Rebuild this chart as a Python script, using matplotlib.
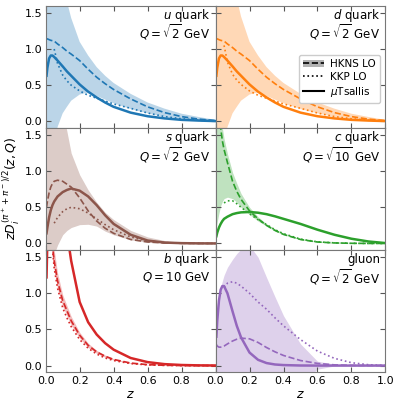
import matplotlib
matplotlib.use("Agg")

import numpy as np
import matplotlib.pyplot as plt
from matplotlib.patches import Patch
from matplotlib.lines import Line2D

nan = np.nan

# shared z grid
z = [0.005, 0.01, 0.02, 0.03, 0.04, 0.05, 0.07, 0.1, 0.125, 0.15, 0.2,
     0.25, 0.3, 0.35, 0.4, 0.5, 0.6, 0.7, 0.8, 0.9, 1.0]

# u quark
u_tsallis = [0.63, 0.74, 0.87, 0.91, 0.91, 0.89, 0.84, 0.76, 0.69, 0.63, 0.51,
             0.41, 0.33, 0.26, 0.20, 0.12, 0.07, 0.04, 0.02, 0.01, 0.003]
u_hkns = [1.14, 1.14, 1.13, 1.12, 1.115, 1.11, 1.07, 1.02, 0.97, 0.93, 0.84,
          0.72, 0.61, 0.52, 0.44, 0.31, 0.20, 0.12, 0.065, 0.03, 0.01]
u_kkp = [nan, nan, nan, nan, nan, 1.00, 0.80, 0.64, 0.56, 0.50, 0.42,
         0.36, 0.32, 0.28, 0.24, 0.18, 0.115, 0.065, 0.035, 0.015, 0.005]
u_hkns_hi = [4.0, 3.5, 3.0, 2.7, 2.45, 2.25, 2.0, 1.82, 1.66, 1.43, 1.10,
             0.91, 0.75, 0.63, 0.53, 0.38, 0.26, 0.175, 0.105, 0.06, 0.02]
u_hkns_lo = [-2.0, -1.7, -1.2, -0.85, -0.55, -0.35, -0.08, 0.11, 0.20, 0.285, 0.37,
             0.40, 0.35, 0.30, 0.25, 0.17, 0.11, 0.06, 0.03, 0.013, 0.004]

# d quark
d_tsallis = [0.63, 0.74, 0.87, 0.91, 0.91, 0.89, 0.84, 0.76, 0.69, 0.63, 0.51,
             0.41, 0.33, 0.26, 0.20, 0.12, 0.07, 0.04, 0.02, 0.01, 0.003]
d_hkns = [1.14, 1.14, 1.13, 1.12, 1.115, 1.11, 1.07, 1.02, 0.97, 0.93, 0.84,
          0.72, 0.61, 0.52, 0.44, 0.31, 0.20, 0.12, 0.065, 0.03, 0.01]
d_kkp = [nan, nan, nan, nan, nan, 1.05, 0.82, 0.65, 0.57, 0.51, 0.42,
         0.36, 0.32, 0.28, 0.24, 0.18, 0.115, 0.065, 0.035, 0.015, 0.005]
d_hkns_hi = [4.0, 3.5, 3.0, 2.7, 2.45, 2.25, 2.0, 1.85, 1.70, 1.45, 1.10,
             0.91, 0.75, 0.63, 0.53, 0.38, 0.26, 0.175, 0.105, 0.06, 0.02]
d_hkns_lo = [-2.0, -1.7, -1.2, -0.85, -0.55, -0.35, -0.08, 0.11, 0.20, 0.285, 0.37,
             0.40, 0.35, 0.30, 0.25, 0.17, 0.11, 0.06, 0.03, 0.013, 0.004]

# s quark
s_tsallis = [0.14, 0.22, 0.36, 0.46, 0.53, 0.58, 0.65, 0.71, 0.74, 0.76, 0.73,
             0.65, 0.53, 0.39, 0.27, 0.12, 0.04, 0.012, 0.004, 0.001, 0.0]
s_hkns = [0.50, 0.58, 0.70, 0.78, 0.83, 0.86, 0.875, 0.86, 0.82, 0.78, 0.63,
          0.45, 0.31, 0.21, 0.14, 0.055, 0.02, 0.007, 0.002, 0.0, 0.0]
s_kkp = [nan, nan, nan, nan, nan, 0.28, 0.36, 0.44, 0.48, 0.50, 0.48,
         0.42, 0.34, 0.26, 0.19, 0.09, 0.033, 0.011, 0.003, 0.001, 0.0]
s_hkns_hi = [4.0, 3.6, 3.0, 2.6, 2.3, 2.15, 2.0, 1.85, 1.55, 1.25, 0.95,
             0.74, 0.57, 0.43, 0.33, 0.18, 0.09, 0.04, 0.015, 0.005, 0.001]
s_hkns_lo = [-1.0, -0.85, -0.6, -0.42, -0.28, -0.15, -0.02, 0.12, 0.18, 0.22, 0.26,
             0.265, 0.24, 0.17, 0.12, 0.05, 0.015, 0.005, 0.002, 0.0, 0.0]

# c quark
c_tsallis = [0.10, 0.15, 0.22, 0.27, 0.31, 0.34, 0.37, 0.405, 0.42, 0.43, 0.435,
             0.425, 0.405, 0.375, 0.34, 0.27, 0.19, 0.12, 0.065, 0.027, 0.005]
c_hkns = [3.0, 2.6, 1.95, 1.6, 1.42, 1.30, 1.12, 0.86, 0.72, 0.61, 0.45,
          0.34, 0.25, 0.18, 0.125, 0.055, 0.02, 0.007, 0.002, 0.0, 0.0]
c_kkp = [nan, nan, nan, nan, nan, 0.56, 0.59, 0.59, 0.55, 0.50, 0.41,
         0.33, 0.26, 0.19, 0.135, 0.06, 0.022, 0.008, 0.002, 0.0, 0.0]
c_hkns_hi = [4.0, 3.5, 2.5, 1.9, 1.6, 1.45, 1.24, 0.98, 0.83, 0.69, 0.50,
             0.37, 0.27, 0.20, 0.14, 0.065, 0.027, 0.01, 0.003, 0.001, 0.0]
c_hkns_lo = [0.22, 0.30, 0.42, 0.52, 0.58, 0.62, 0.64, 0.62, 0.57, 0.50, 0.40,
             0.31, 0.24, 0.17, 0.12, 0.05, 0.018, 0.006, 0.002, 0.0, 0.0]

# b quark
b_tsallis = [1.22, 1.75, 2.6, 3.0, 3.2, 3.2, 2.9, 2.3, 1.85, 1.45, 0.88,
             0.60, 0.43, 0.31, 0.22, 0.105, 0.048, 0.02, 0.008, 0.003, 0.001]
b_hkns = [5.0, 4.5, 3.2, 2.2, 1.65, 1.45, 1.17, 0.90, 0.76, 0.62, 0.42,
          0.28, 0.19, 0.13, 0.085, 0.035, 0.013, 0.004, 0.001, 0.0, 0.0]
b_kkp = [nan, nan, nan, 2.1, 1.62, 1.35, 1.07, 0.80, 0.66, 0.54, 0.36,
         0.24, 0.16, 0.105, 0.07, 0.028, 0.01, 0.003, 0.001, 0.0, 0.0]
b_hkns_hi = [5.5, 5.0, 3.6, 2.45, 1.85, 1.6, 1.28, 0.98, 0.83, 0.68, 0.46,
             0.31, 0.21, 0.145, 0.095, 0.04, 0.015, 0.005, 0.001, 0.0, 0.0]
b_hkns_lo = [4.5, 4.0, 2.9, 2.0, 1.5, 1.32, 1.06, 0.82, 0.69, 0.56, 0.38,
             0.25, 0.17, 0.115, 0.075, 0.03, 0.011, 0.003, 0.001, 0.0, 0.0]

# gluon
g_tsallis = [0.40, 0.62, 0.90, 1.05, 1.10, 1.10, 1.00, 0.75, 0.55, 0.39, 0.18,
             0.08, 0.035, 0.015, 0.007, 0.001, 0.0, 0.0, 0.0, 0.0, 0.0]
g_hkns = [0.29, 0.27, 0.255, 0.255, 0.26, 0.27, 0.30, 0.34, 0.365, 0.38, 0.37,
          0.32, 0.25, 0.19, 0.14, 0.07, 0.03, 0.01, 0.003, 0.001, 0.0]
g_kkp = [nan, nan, nan, nan, nan, 1.08, 1.14, 1.16, 1.14, 1.10, 1.00,
         0.88, 0.78, 0.66, 0.55, 0.36, 0.20, 0.10, 0.04, 0.012, 0.002]
g_hkns_hi = [0.80, 0.86, 0.98, 1.08, 1.17, 1.25, 1.36, 1.47, 1.55, 1.61, 1.66,
             1.50, 1.22, 0.95, 0.69, 0.30, 0.06, 0.02, 0.006, 0.002, 0.0]
g_hkns_lo = [-0.6, -0.6, -0.6, -0.6, -0.6, -0.6, -0.6, -0.6, -0.6, -0.6, -0.6,
             -0.55, -0.5, -0.45, -0.4, -0.25, -0.05, -0.005, 0.0, 0.0, 0.0]

panels = [
    (r"$u$ quark", r"$Q=\sqrt{2}$ GeV", "tab:blue", u_tsallis, u_hkns, u_kkp, u_hkns_lo, u_hkns_hi),
    (r"$d$ quark", r"$Q=\sqrt{2}$ GeV", "tab:orange", d_tsallis, d_hkns, d_kkp, d_hkns_lo, d_hkns_hi),
    (r"$s$ quark", r"$Q=\sqrt{2}$ GeV", "tab:brown", s_tsallis, s_hkns, s_kkp, s_hkns_lo, s_hkns_hi),
    (r"$c$ quark", r"$Q=\sqrt{10}$ GeV", "tab:green", c_tsallis, c_hkns, c_kkp, c_hkns_lo, c_hkns_hi),
    (r"$b$ quark", r"$Q=10$ GeV", "tab:red", b_tsallis, b_hkns, b_kkp, b_hkns_lo, b_hkns_hi),
    ("gluon", r"$Q=\sqrt{2}$ GeV", "tab:purple", g_tsallis, g_hkns, g_kkp, g_hkns_lo, g_hkns_hi),
]

fig, axes = plt.subplots(3, 2, figsize=(3.99, 4.04), dpi=100)
plt.subplots_adjust(left=0.1145, right=0.966, top=0.986, bottom=0.079, hspace=0, wspace=0)

for k, (ax, (name, qlab, col, ts, hk, kp, lo, hi)) in enumerate(zip(axes.flat, panels)):
    ax.fill_between(z, lo, hi, color=col, alpha=0.3, lw=0)
    ax.plot(z, hk, color=col, ls="--", lw=1.2)
    ax.plot(z, kp, color=col, ls=":", lw=1.2)
    ax.plot(z, ts, color=col, ls="-", lw=1.8)

    ax.set_xlim(0, 1)
    ax.set_ylim(-0.09, 1.6)
    ax.set_xticks([0, 0.2, 0.4, 0.6, 0.8, 1.0])
    ax.set_yticks([0, 0.5, 1.0, 1.5])
    ax.tick_params(direction="in", top=True, right=True, labelsize=8,
                   color="#555555", length=3.5, pad=2.5)
    for sp in ax.spines.values():
        sp.set_color("#777777")

    ax.text(0.97, 0.92, name, transform=ax.transAxes, ha="right", va="center", fontsize=8.5)
    ax.text(0.97, 0.78, qlab, transform=ax.transAxes, ha="right", va="center", fontsize=8.5)

    row, colidx = divmod(k, 2)
    if colidx == 1:
        ax.tick_params(labelleft=False)
    if row < 2:
        ax.tick_params(labelbottom=False)
    else:
        ax.set_xlabel(r"$z$", fontsize=9, labelpad=2)
        if colidx == 0:
            ax.set_xticklabels(["0.0", "0.2", "0.4", "0.6", "0.8", ""])
        else:
            ax.set_xticklabels(["0.0", "0.2", "0.4", "0.6", "0.8", "1.0"])

fig.text(0.028, 0.535, r"$zD_i^{(\pi^++\pi^-)/2}(z,Q)$", rotation=90,
         ha="center", va="center", fontsize=9)

handles = [
    (Patch(facecolor="gray", alpha=0.6, lw=0), Line2D([], [], color="black", ls="--", lw=1.2)),
    Line2D([], [], color="black", ls=":", lw=1.2),
    Line2D([], [], color="black", ls="-", lw=1.5),
]
axes[0, 1].legend(handles, ["HKNS LO", "KKP LO", r"$\mu$Tsallis"], loc="center right",
                  bbox_to_anchor=(1.0, 0.4), fontsize=7.5, handlelength=2.0,
                  borderpad=0.4, labelspacing=0.3, handletextpad=0.6, framealpha=1.0)

fig.savefig("out.png", dpi=100)
